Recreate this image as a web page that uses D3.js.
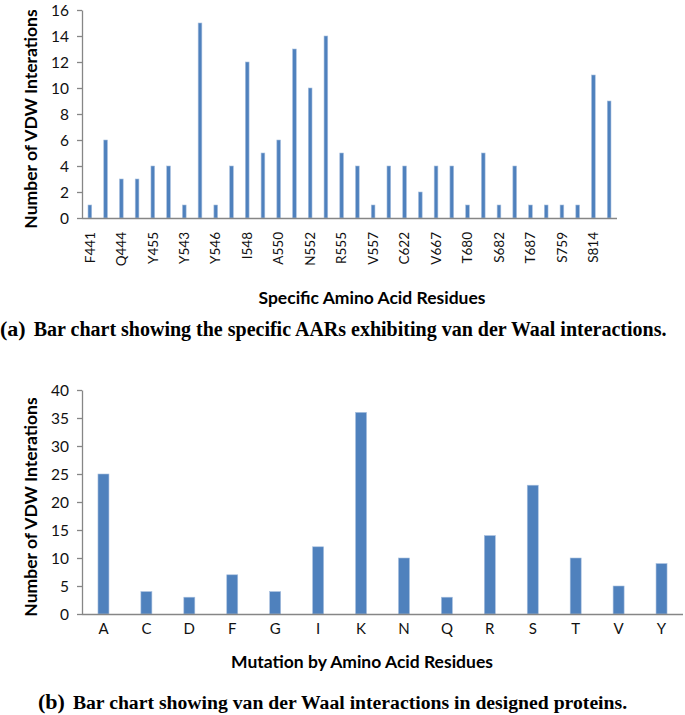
<!DOCTYPE html>
<html><head><meta charset="utf-8">
<script src="https://cdn.jsdelivr.net/npm/d3@7"></script>
<style>
body{margin:0;background:#fff;}
svg{display:block;}
.lab{font-family:Lato,"Open Sans",sans-serif;fill:#000;}
</style></head>
<body>
<svg id="c" width="685" height="715"></svg>
<script>
// ---- Chart (a) data ----
const residuesA = ["F441","L442","Q444","Y449","Y455","F456","Y543","I545","Y546","Q547","I548","A549","A550","L551","N552","K553","R555","E556","V557","E558","C622","M623","V667","K668","T680","P681","S682","K683","T687","A688","S759","I760","S814","V815"];
const valuesA = [1,6,3,3,4,4,1,15,1,4,12,5,6,13,10,14,5,4,1,4,4,2,4,4,1,5,1,4,1,1,1,1,11,9];
const ticksA = [0,2,4,6,8,10,12,14,16];

// ---- Chart (b) data ----
const residuesB = ["A","C","D","F","G","I","K","N","Q","R","S","T","V","Y"];
const valuesB = [25,4,3,7,4,12,36,10,3,14,23,10,5,9];
const ticksB = [0,5,10,15,20,25,30,35,40];

const svg = d3.select("#c");
const axisColor = "#868686";
const barColor = "#4F81BD";
const font = 'Lato, "Open Sans", sans-serif';

function styleAxis(g){
  g.selectAll("path,line").attr("stroke", axisColor).attr("stroke-width",1.3);
  g.selectAll("text").attr("font-family", font).attr("fill","#111");
}

function drawChart(cfg){
  const x = d3.scaleBand().domain(cfg.cats).range([cfg.x0, cfg.x1])
    .paddingInner(cfg.pad).paddingOuter(cfg.pad/2);
  const y = d3.scaleLinear().domain([0, cfg.ymax]).range([cfg.y0, cfg.y1]);
  const g = svg.append("g");

  g.selectAll("rect.bar").data(cfg.vals).join("rect")
    .attr("class","bar")
    .attr("x",(d,i)=>x(cfg.cats[i]))
    .attr("width",x.bandwidth())
    .attr("y",d=>y(d))
    .attr("height",d=>y(0)-y(d))
    .attr("fill",barColor)
    .attr("stroke","#A7BFDE").attr("stroke-width",0.6);

  const ya = g.append("g").attr("transform",`translate(${cfg.x0},0)`)
    .call(d3.axisLeft(y).tickValues(cfg.ticks).tickSize(5).tickSizeOuter(0).tickPadding(8));
  styleAxis(ya);
  ya.selectAll("text").attr("font-size", cfg.tickFs).attr("dy","0.34em");

  const xa = g.append("g").attr("transform",`translate(0,${cfg.y0})`)
    .call(d3.axisBottom(x).tickValues(cfg.tickCats).tickSize(0).tickSizeOuter(0));
  styleAxis(xa);
  xa.select("path.domain").attr("d",`M${cfg.x0},0.5H${cfg.x1}`);
  xa.selectAll("text").attr("font-size", cfg.xFs);
  if(cfg.rotate){
    xa.selectAll("text").attr("transform","rotate(-90)")
      .attr("text-anchor","end").attr("x",-14).attr("y",0).attr("dy","0.35em");
  } else {
    xa.selectAll("text").attr("dy","0").attr("y",cfg.xLabY);
  }

  g.append("text").attr("class","lab")
    .attr("transform",`translate(${cfg.ytX},${(cfg.y0+cfg.y1)/2+5}) rotate(-90)`)
    .attr("text-anchor","middle").attr("font-weight","bold").attr("font-size",17.5)
    .text("Number of VDW Interations");
  g.append("text").attr("class","lab")
    .attr("x",cfg.xtX).attr("y",cfg.xtY).attr("text-anchor","middle")
    .attr("font-weight","bold").attr("font-size",17.5).text(cfg.xTitle);

  const cap = g.append("text").attr("x",cfg.capX).attr("y",cfg.capY)
    .attr("font-family",'"Liberation Serif","Times New Roman",serif').attr("font-weight","bold").attr("fill","#000");
  cap.append("tspan").attr("font-size",22).text(cfg.capLetter);
  cap.append("tspan").attr("font-size",cfg.capFs).attr("dx",8).text(cfg.capText);
}

drawChart({
  cats: residuesA, vals: valuesA, ticks: ticksA, ymax: 16,
  tickCats: residuesA.filter((d,i)=>i%2===0),
  x0: 82, x1: 617, y0: 218, y1: 10, pad: 0.765,
  tickFs: 15.5, xFs: 13.5, rotate: true,
  ytX: 37, xtX: 372, xtY: 304, xTitle: "Specific Amino Acid Residues",
  capX: 0, capY: 336, capFs: 20, capLetter: "(a)", capText: "Bar chart showing the specific AARs exhibiting van der Waal interactions."
});

drawChart({
  cats: residuesB, vals: valuesB, ticks: ticksB, ymax: 40,
  tickCats: residuesB,
  x0: 82, x1: 683, y0: 614, y1: 390, pad: 0.744,
  tickFs: 15.5, xFs: 15, rotate: false, xLabY: 20,
  ytX: 37, xtX: 362, xtY: 668, xTitle: "Mutation by Amino Acid Residues",
  capX: 38, capY: 709, capFs: 19.7, capLetter: "(b)", capText: "Bar chart showing van der Waal interactions in designed proteins."
});
</script>
</body></html>
